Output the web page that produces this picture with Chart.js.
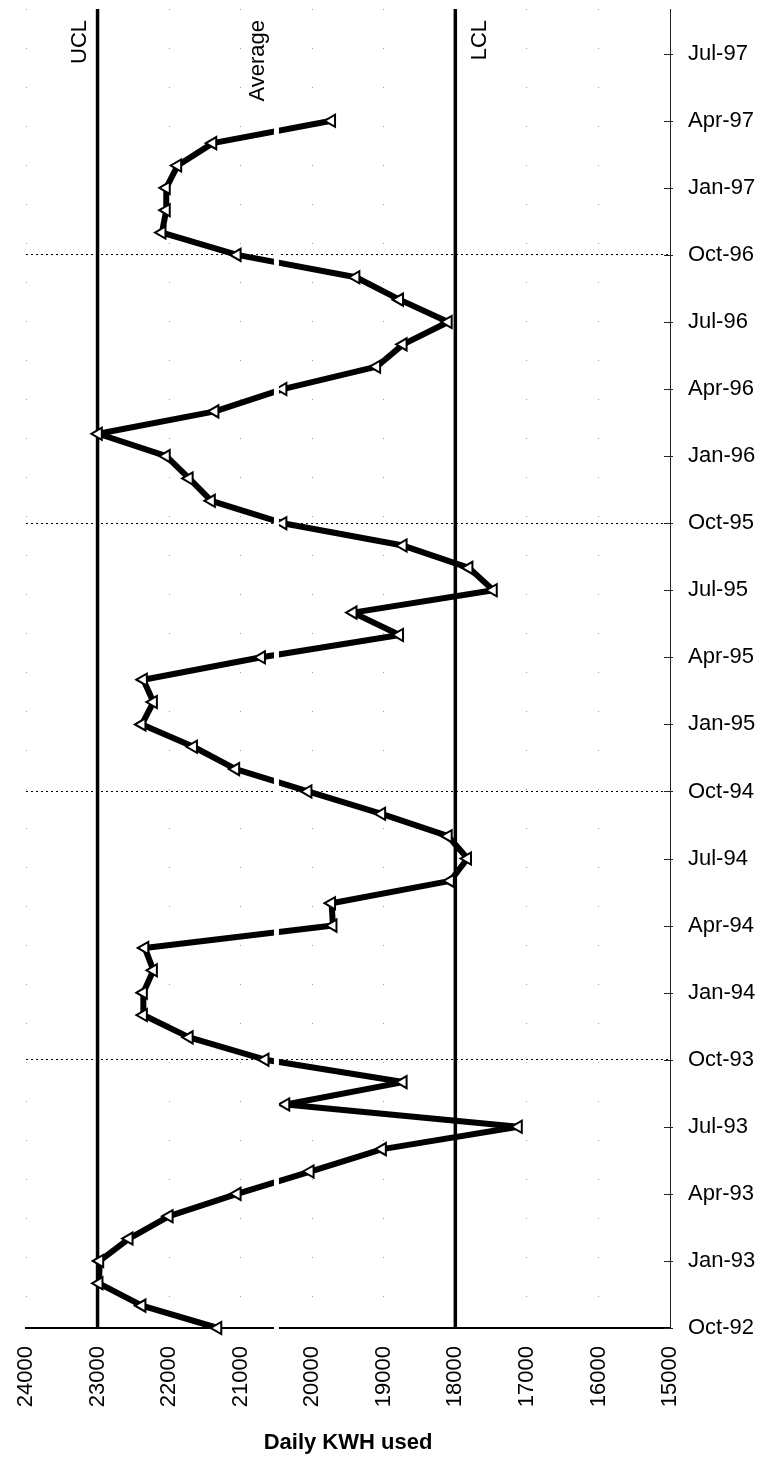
<!DOCTYPE html>
<html lang="en">
<head>
    <meta charset="UTF-8">
    <title>Daily KWH used</title>
    <script src="https://cdn.jsdelivr.net/npm/chart.js"></script>
    <style>
        body { margin: 0; background: #fff; }
        canvas { display: block; }
    </style>
</head>
<body>
<canvas id="kwhChart" width="763" height="1461"></canvas>

<script>
    // months counted from Oct-92 (0) ; axis runs up to Sep-97
    const monthMin = 0;
    const monthMax = 59;
    const tickMonths = [0, 3, 6, 9, 12, 15, 18, 21, 24, 27, 30, 33, 36, 39, 42, 45, 48, 51, 54, 57];
    const tickLabels = ['Oct-92', 'Jan-93', 'Apr-93', 'Jul-93', 'Oct-93', 'Jan-94', 'Apr-94', 'Jul-94',
        'Oct-94', 'Jan-95', 'Apr-95', 'Jul-95', 'Oct-95', 'Jan-96', 'Apr-96', 'Jul-96',
        'Oct-96', 'Jan-97', 'Apr-97', 'Jul-97'];

    // monthly readings, Oct-92 .. Apr-97
    const kwhUsed = [
        21320, 22380, 22980, 22970, 22560, 22000, 21050, 20030, 19020, 17120,
        20370, 18730, 20660, 21720, 22360, 22360, 22220, 22340, 19710, 19730,
        18070, 17830, 18100, 19030, 20060, 21070, 21660, 22380, 22220, 22360,
        20710, 18780, 19430, 17470, 17810, 18730, 20410, 21410, 21720, 22040,
        22990, 21360, 20410, 19100, 18730, 18100, 18780, 19390, 21050, 22100,
        22040, 22040, 21880, 21390, 19730
    ];

    const ucl = 23000;
    const lcl = 18000;
    const average = 20500;

    const kwhMin = 15000;
    const kwhMax = 24000;

    const fontFamily = '"Liberation Sans", Arial, sans-serif';

    // labels for the control lines + small ticks on the date axis
    const limitLabels = [
        { text: 'UCL', value: ucl, dx: -18 },
        { text: 'Average', value: average, dx: -19 },
        { text: 'LCL', value: lcl, dx: 25 }
    ];

    const extras = {
        id: 'extras',
        afterDraw(chart) {
            const { ctx, chartArea, scales } = chart;
            ctx.save();
            ctx.fillStyle = '#000';
            ctx.font = '22px ' + fontFamily;
            ctx.textAlign = 'right';
            ctx.textBaseline = 'middle';
            limitLabels.forEach(l => {
                const px = scales.x.getPixelForValue(l.value) + l.dx;
                ctx.save();
                ctx.translate(px, chartArea.top + 11);
                ctx.rotate(-Math.PI / 2);
                ctx.fillText(l.text, 0, 0);
                ctx.restore();
            });

            ctx.strokeStyle = '#222';
            ctx.lineWidth = 1;
            tickMonths.forEach(m => {
                const py = Math.round(scales.y.getPixelForValue(m)) + 0.5;
                ctx.beginPath();
                ctx.moveTo(chartArea.right - 6, py);
                ctx.lineTo(chartArea.right + 3, py);
                ctx.stroke();
            });
            ctx.restore();
        }
    };

    const vline = v => [{ x: v, y: monthMin }, { x: v, y: monthMax }];

    new Chart(document.getElementById('kwhChart'), {
        type: 'scatter',
        data: {
            datasets: [
                {
                    label: 'Daily KWH used',
                    data: kwhUsed.map((v, i) => ({ x: v, y: i })),
                    showLine: true,
                    borderColor: '#000',
                    borderWidth: 6,
                    borderJoinStyle: 'round',
                    borderCapStyle: 'round',
                    tension: 0,
                    pointStyle: 'triangle',
                    pointRotation: -90,
                    pointRadius: 7,
                    pointBackgroundColor: '#fff',
                    pointBorderColor: '#000',
                    pointBorderWidth: 2,
                    clip: false,
                    order: 2
                },
                {
                    label: 'UCL',
                    data: vline(ucl),
                    showLine: true,
                    borderColor: '#000',
                    borderWidth: 3.5,
                    pointRadius: 0,
                    order: 3
                },
                {
                    label: 'LCL',
                    data: vline(lcl),
                    showLine: true,
                    borderColor: '#000',
                    borderWidth: 3.5,
                    pointRadius: 0,
                    order: 3
                },
                {
                    // white average line, only visible where it cuts the data line
                    label: 'Average',
                    data: [{ x: average, y: monthMin - 0.3 }, { x: average, y: monthMax }],
                    showLine: true,
                    borderColor: '#fff',
                    borderWidth: 5,
                    pointRadius: 0,
                    clip: false,
                    order: 0
                }
            ]
        },
        options: {
            responsive: false,
            animation: false,
            devicePixelRatio: 1,
            layout: { padding: { left: 26, top: 9, right: 0, bottom: 0 } },
            plugins: {
                legend: { display: false },
                tooltip: { enabled: false }
            },
            scales: {
                x: {
                    type: 'linear',
                    reverse: true,
                    min: kwhMin,
                    max: kwhMax,
                    ticks: {
                        stepSize: 1000,
                        autoSkip: false,
                        minRotation: 90,
                        maxRotation: 90,
                        padding: 18,
                        color: '#000',
                        font: { family: fontFamily, size: 22 },
                        callback: v => String(v)
                    },
                    grid: {
                        color: '#9a9a9a',
                        lineWidth: 1,
                        drawTicks: false
                    },
                    border: { display: true, color: '#000', width: 2, dash: [1, 38] },
                    title: {
                        display: true,
                        text: 'Daily KWH used',
                        color: '#000',
                        font: { family: fontFamily, size: 22, weight: 'bold' },
                        padding: { top: 4, bottom: 5 }
                    },
                    afterFit: s => { s.height = 133; s.paddingLeft = 0; s.paddingRight = 0; }
                },
                y: {
                    type: 'linear',
                    position: 'right',
                    min: monthMin,
                    max: monthMax,
                    afterBuildTicks: s => { s.ticks = tickMonths.map(v => ({ value: v })); },
                    ticks: {
                        autoSkip: false,
                        padding: 18,
                        color: '#000',
                        font: { family: fontFamily, size: 22 },
                        callback: v => tickLabels[tickMonths.indexOf(v)]
                    },
                    grid: {
                        drawTicks: false,
                        lineWidth: 1,
                        color: ctx => (ctx.tick && ctx.tick.value > 0 && ctx.tick.value % 12 === 0) ? '#000' : 'rgba(0,0,0,0)'
                    },
                    border: { display: true, color: '#222', width: 1, dash: [2, 3] },
                    afterFit: s => { s.width = 93; s.paddingTop = 0; s.paddingBottom = 0; }
                }
            }
        },
        plugins: [extras]
    });
</script>
</body>
</html>
